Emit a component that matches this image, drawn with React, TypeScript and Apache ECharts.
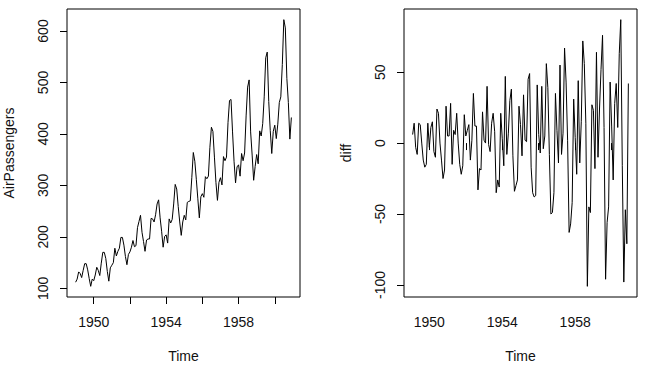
import React, { useEffect, useRef } from "react";
import * as echarts from "echarts";

const startYear = 1949;
const airPassengers = [
  112, 118, 132, 129, 121, 135, 148, 148, 136, 119, 104, 118,
  115, 126, 141, 135, 125, 149, 170, 170, 158, 133, 114, 140,
  145, 150, 178, 163, 172, 178, 199, 199, 184, 162, 146, 166,
  171, 180, 193, 181, 183, 218, 230, 242, 209, 191, 172, 194,
  196, 196, 236, 235, 229, 243, 264, 272, 237, 211, 180, 201,
  204, 188, 235, 227, 234, 264, 302, 293, 259, 229, 203, 229,
  242, 233, 267, 269, 270, 315, 364, 347, 312, 274, 237, 278,
  284, 277, 317, 313, 318, 374, 413, 405, 355, 306, 271, 306,
  315, 301, 356, 348, 355, 422, 465, 467, 404, 347, 305, 336,
  340, 318, 362, 348, 363, 435, 491, 505, 404, 359, 310, 337,
  360, 342, 406, 396, 420, 472, 548, 559, 463, 407, 362, 405,
  417, 391, 419, 461, 472, 535, 622, 606, 508, 461, 390, 432,
];
// first value is Feb 1949
const diffValues = [
  6, 14, -3, -8, 14, 13, 0, -12, -17, -15, 14,
  -3, 11, 15, -6, -10, 24, 21, 0, -12, -25, -19, 26,
  5, 5, 28, -15, 9, 6, 21, 0, -15, -22, -16, 20,
  5, 9, 13, -12, 2, 35, 12, 12, -33, -18, -19, 22,
  2, 0, 40, -1, -6, 14, 21, 8, -35, -26, -31, 21,
  3, -16, 47, -8, 7, 30, 38, -9, -34, -30, -26, 26,
  13, -9, 34, 2, 1, 45, 49, -17, -35, -38, -37, 41,
  6, -7, 40, -4, 5, 56, 39, -8, -50, -49, -35, 35,
  9, -14, 55, -8, 7, 67, 43, 2, -63, -57, -42, 31,
  4, -22, 44, -14, 15, 72, 56, 14, -101, -45, -49, 27,
  23, -18, 64, -10, 24, 52, 76, 11, -96, -56, -45, 43,
  12, -26, 28, 42, 11, 63, 87, -16, -98, -47, -71, 42,
];
const xTickValues = [1950, 1952, 1954, 1956, 1958, 1960];
const xLabelValues = [1950, 1954, 1958];
const leftYTicks = [100, 200, 300, 400, 500, 600];
const rightYTicks = [-100, -50, 0, 50];
const xTitle = "Time";
const leftYTitle = "AirPassengers";
const rightYTitle = "diff";

const FONT = "'Liberation Sans', Arial, sans-serif";
const TEXT = "#111";

function toPairs(values: number[], offsetMonths: number) {
  return values.map((v, i) => [startYear + (i + offsetMonths) / 12, v]);
}
function padRange(arr: number[]) {
  const lo = Math.min(...arr);
  const hi = Math.max(...arr);
  const p = (hi - lo) * 0.04;
  return [lo - p, hi + p];
}
const plain = (v: number) => String(Math.round(v));

export default function App() {
  const ref = useRef<HTMLDivElement>(null);
  useEffect(() => {
    if (!ref.current) return;
    const chart = echarts.init(ref.current, undefined, { renderer: "svg" });
    const leftData = toPairs(airPassengers, 0);
    const rightData = toPairs(diffValues, 1);
    const lx = padRange(leftData.map((d) => d[0]));
    const rx = padRange(rightData.map((d) => d[0]));
    const ly = padRange(airPassengers);
    const ry = padRange(diffValues);

    const xAxisBase = (gridIndex: number, range: number[]) => ({
      type: "value",
      gridIndex,
      min: range[0],
      max: range[1],
      splitLine: { show: false },
      axisLine: { show: false },
      axisTick: {
        show: true,
        length: 7,
        customValues: xTickValues,
        lineStyle: { color: "#000", width: 1 },
      },
      axisLabel: {
        customValues: xLabelValues,
        formatter: plain,
        margin: 18,
        fontSize: 14,
        fontFamily: FONT,
        color: TEXT,
      },
      name: xTitle,
      nameLocation: "middle",
      nameGap: 52,
      nameTextStyle: { fontSize: 14, fontFamily: FONT, color: TEXT },
    });
    const yAxisBase = (gridIndex: number, range: number[], ticks: number[], title: string) => ({
      type: "value",
      gridIndex,
      min: range[0],
      max: range[1],
      splitLine: { show: false },
      axisLine: { show: false },
      axisTick: {
        show: true,
        length: 7,
        customValues: ticks,
        lineStyle: { color: "#000", width: 1 },
      },
      axisLabel: {
        customValues: ticks,
        formatter: plain,
        rotate: 90,
        margin: 17,
        fontSize: 14,
        fontFamily: FONT,
        color: TEXT,
      },
      name: title,
      nameLocation: "middle",
      nameGap: 51,
      nameRotate: 90,
      nameTextStyle: { fontSize: 14, fontFamily: FONT, color: TEXT },
    });

    chart.setOption({
      animation: false,
      backgroundColor: "#fff",
      grid: [
        { left: 67, top: 9, width: 233, height: 288, show: true, borderColor: "#000", borderWidth: 1, backgroundColor: "transparent" },
        { left: 404, top: 9, width: 233, height: 288, show: true, borderColor: "#000", borderWidth: 1, backgroundColor: "transparent" },
      ],
      xAxis: [xAxisBase(0, lx), xAxisBase(1, rx)],
      yAxis: [
        yAxisBase(0, ly, leftYTicks, leftYTitle),
        yAxisBase(1, ry, rightYTicks, rightYTitle),
      ],
      series: [
        {
          type: "line",
          xAxisIndex: 0,
          yAxisIndex: 0,
          data: leftData,
          smooth: false,
          showSymbol: false,
          lineStyle: { color: "#000", width: 1 },
        },
        {
          type: "line",
          xAxisIndex: 1,
          yAxisIndex: 1,
          data: rightData,
          smooth: false,
          showSymbol: false,
          lineStyle: { color: "#000", width: 1 },
        },
      ],
    });
    return () => chart.dispose();
  }, []);
  return (
    <div
      ref={ref}
      style={{ position: "absolute", left: 0, top: 0, width: 649, height: 375 }}
    />
  );
}
